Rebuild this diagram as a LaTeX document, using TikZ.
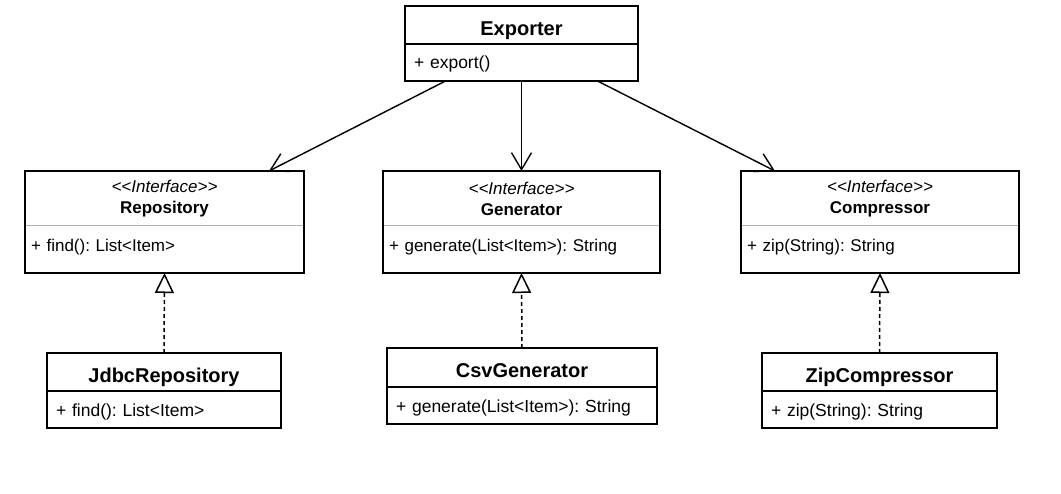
\documentclass[tikz,border=0pt]{standalone}
\usepackage{fontspec}
\setmainfont{Liberation Sans}
\usetikzlibrary{arrows.meta,positioning}
\frenchspacing
\begin{document}
\begin{tikzpicture}[x=1pt,y=-1pt]
            \tikzset{
            cls title/.style={draw,line width=1.6pt,outer sep=0,inner sep=0,minimum height=38pt,text height=20.5pt,text depth=0pt,font=\fontsize{20}{24}\selectfont\bfseries},
            cls body/.style={draw,line width=1.6pt,outer sep=0,inner xsep=9pt,inner ysep=0,minimum height=37pt,text height=14pt,text depth=0pt,align=left,font=\fontsize{17.5}{21}\selectfont},
            ifc head/.style={outer sep=0,inner sep=0,minimum height=55pt,align=center,font=\fontsize{17}{21}\selectfont},
            ifc body/.style={outer sep=0,inner xsep=6pt,inner ysep=0,minimum height=47pt,text height=12pt,text depth=7pt,align=left,font=\fontsize{17}{21}\selectfont},
            ifc frame/.style={draw,line width=1.6pt},
            ifc split/.style={draw=black!30,line width=1pt},
            uses/.style={line width=1.4pt,-{Straight Barb[length=17pt,width=20pt]}},
            realizes/.style={line width=1.5pt,dash pattern=on 4pt off 3pt,-{Triangle[length=20pt,width=19pt,fill=white]}}
            }
            \useasboundingbox (0,0) rectangle (1061,494);

            % client
            \node[cls title,minimum width=233pt,anchor=north] (exp) at (521.5,6) {Exporter};
            \node[cls body,text width=215pt,text height=12.5pt,below=0pt of exp] (exp m) {+ export()};

            % interfaces
            \node[ifc head,minimum width=279pt,anchor=north] (repo) at (164.5,171) {\textit{<{}<Interface>{}>}\\\textbf{Repository}};
            \node[ifc body,text width=267pt,below=0pt of repo] (repo m) {+ find(): List<Item>};
            \node[ifc head,minimum width=277pt,anchor=north] (gen) at (521.5,171) {\textit{<{}<Interface>{}>}\\\textbf{Generator}};
            \node[ifc body,text width=265pt,below=0pt of gen] (gen m) {+ generate(List<Item>): String};
            \node[ifc head,minimum width=278pt,anchor=north] (cmp) at (880,171) {\textit{<{}<Interface>{}>}\\\textbf{Compressor}};
            \node[ifc body,text width=266pt,below=0pt of cmp] (cmp m) {+ zip(String): String};

            \draw[ifc split] (repo m.north west) -- (repo m.north east);
            \draw[ifc split] (gen m.north west) -- (gen m.north east);
            \draw[ifc split] (cmp m.north west) -- (cmp m.north east);
            \draw[ifc frame] (repo.north west) rectangle (repo m.south east);
            \draw[ifc frame] (gen.north west) rectangle (gen m.south east);
            \draw[ifc frame] (cmp.north west) rectangle (cmp m.south east);

            % implementations
            \node[cls title,minimum width=234pt,anchor=north] (jdbc) at (164,353) {JdbcRepository};
            \node[cls body,text width=216pt,below=0pt of jdbc] (jdbc m) {+ find(): List<Item>};
            \node[cls title,minimum width=270pt,minimum height=39pt,anchor=north] (csv) at (522,348) {CsvGenerator};
            \node[cls body,text width=252pt,below=0pt of csv] (csv m) {+ generate(List<Item>): String};
            \node[cls title,minimum width=235pt,anchor=north] (zip) at (879.5,353) {ZipCompressor};
            \node[cls body,text width=217pt,below=0pt of zip] (zip m) {+ zip(String): String};

            \path
            ([xshift=-76pt]exp m.south) edge[uses] ([xshift=104.5pt]repo.north)
            (exp m.south) edge[uses] (gen.north)
            ([xshift=76pt]exp m.south) edge[uses] ([xshift=-105pt]cmp.north)
            (jdbc.north) edge[realizes] (repo m.south)
            (csv.north) edge[realizes] (gen m.south)
            (zip.north) edge[realizes] (cmp m.south)
            ;
\end{tikzpicture}
\end{document}
